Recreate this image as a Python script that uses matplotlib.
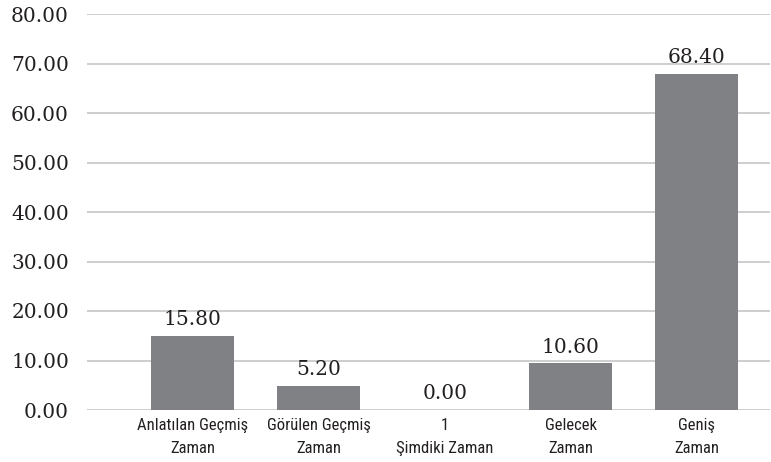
import matplotlib
matplotlib.use("Agg")
import matplotlib.pyplot as plt
from matplotlib import font_manager as fm
import numpy as np

categories = ["Anlatılan Geçmiş\nZaman", "Görülen Geçmiş\nZaman", "1\nŞimdiki Zaman",
              "Gelecek\nZaman", "Geniş\nZaman"]
bar_heights = [15.0, 4.9, 0.0, 9.4, 67.8]
value_labels = ["15.80", "5.20", "0.00", "10.60", "68.40"]
y_ticks = [0, 10, 20, 30, 40, 50, 60, 70, 80]

names = {f.name for f in fm.fontManager.ttflist}
cat_font = [f for f in ["Liberation Sans Narrow", "Roboto Condensed", "Open Sans Condensed", "Liberation Sans", "DejaVu Sans"] if f in names]
num_font = ["DejaVu Serif"]

fig = plt.figure(figsize=(7.71, 4.62), dpi=100)
ax = fig.add_axes([87 / 771, 1 - 410 / 462, (770 - 87) / 771, (410 - 14) / 462])

x = np.arange(len(categories))
bars = ax.bar(x, bar_heights, width=0.66, color="#808184", zorder=3)

ax.set_ylim(0, 80)
ax.set_xlim(-0.837, 4.58)
ax.set_yticks(y_ticks)
ax.set_yticklabels([f"{v:.2f}" for v in y_ticks], fontfamily=num_font, fontsize=14.5, color="#231f20")
ax.set_xticks(x)
ax.set_xticklabels(categories, fontfamily=cat_font, fontsize=12, color="#231f20", linespacing=1.65)
ax.tick_params(axis="both", length=0)
ax.tick_params(axis="y", pad=13)
ax.tick_params(axis="x", pad=6)
for s in ax.spines.values():
    s.set_visible(False)
ax.yaxis.grid(True, color="#c6c6c6", linewidth=1.2, zorder=0)
ax.set_axisbelow(True)

for xi, h, lab in zip(x, bar_heights, value_labels):
    ax.annotate(lab, (xi, h), xytext=(0, 5), textcoords="offset points",
                ha="center", va="bottom", fontfamily=num_font, fontsize=14.5, color="#231f20")

fig.savefig("out.png", dpi=100)
